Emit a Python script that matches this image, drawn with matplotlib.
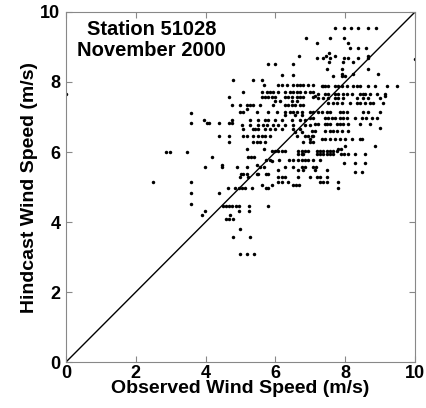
import numpy as np
import matplotlib
matplotlib.use('Agg')
import matplotlib.pyplot as plt

plt.rcParams['font.family'] = ['Liberation Sans', 'DejaVu Sans']
plt.rcParams['font.weight'] = 'bold'

# hindcast value -> observed speeds (m/s)
rows = [
    # upper tail
    (9.53, [7.72, 7.97, 8.17, 8.38, 8.66, 8.87]),
    (9.25, [6.88, 7.57, 7.97]),
    (9.12, [7.18, 8.09]),
    (8.96, [8.14, 8.36, 8.59]),
    (8.82, [7.54]),
    (8.75, [6.67, 7.45, 7.71, 8.66]),
    (8.68, [7.18, 7.37, 7.57, 7.97, 8.09, 8.36, 8.66]),
    (8.66, [10.0]),
    # core
    (8.58, [7.54, 7.95, 8.23]),
    (8.51, [5.78, 5.99, 6.50]),
    (8.37, [7.49, 7.90, 8.66]),
    (8.24, [7.90, 8.23, 8.95]),
    (8.20, [6.18, 6.50]),
    (8.16, [7.66, 7.90, 8.00]),
    (8.06, [4.79, 5.37, 5.61]),
    (7.91, [5.68, 6.08, 6.18, 6.32, 6.51, 6.61, 6.70, 6.80, 6.94, 7.09]),
    (7.90, [7.33, 7.37, 7.42, 7.52, 7.71, 7.80, 7.90, 8.04, 8.23, 8.33, 8.42,
            8.66, 8.85, 9.19, 9.47]),
    (7.71, [5.08, 5.61, 5.75, 5.85, 5.94, 6.08, 6.28, 6.42, 6.51, 6.61, 6.70,
            6.85, 6.99, 7.09]),
    (7.66, [7.23, 7.42, 7.52, 7.71, 7.80, 7.95, 8.04, 8.19, 8.42, 8.52, 8.57,
            8.71, 8.90, 9.14]),
    (7.65, [0.0]),
    (7.60, [7.13, 9.14]),
    (7.57, [4.67, 5.61, 5.70, 5.80, 5.89, 5.99, 6.28, 6.37, 6.47, 6.61, 6.70,
            6.80, 7.09]),
    (7.54, [7.23, 7.37, 7.52, 7.71, 7.80, 7.95, 8.33, 8.52, 8.66, 9.00]),
    (7.45, [5.99, 6.13, 6.47, 6.61]),
    (7.40, [7.52, 7.66, 7.76, 7.90, 8.14, 8.33, 8.42, 8.57, 8.71, 8.80, 9.09]),
    (7.34, [4.77, 4.99, 5.18, 5.27, 5.37, 5.56, 5.94, 6.28, 6.37, 6.47, 6.56,
            6.70, 6.80]),
    (7.22, [5.18]),
    (7.14, [4.99, 5.08, 5.47, 5.80, 6.04, 6.28, 6.42, 6.51, 6.61, 6.75, 6.99,
            7.09, 7.23, 7.33, 7.47, 7.57, 7.85, 7.95, 8.04, 8.52, 8.66, 9.00]),
    (7.12, [3.57]),
    (7.05, [6.28, 6.56, 6.75]),
    (6.97, [6.99, 7.09, 7.42, 7.52, 7.61, 7.71, 7.85, 7.95, 8.04, 8.28, 8.47,
            8.61, 8.76, 8.90]),
    (6.91, [3.96, 4.77, 5.27, 5.51, 5.70, 5.80, 5.99, 6.18, 6.47, 6.70, 6.85]),
    (6.84, [3.57, 4.03, 4.67, 4.77]),
    (6.82, [4.10, 4.38]),
    (6.80, [7.13, 7.23, 7.42, 7.47, 7.57, 7.76, 7.85, 7.95, 8.09, 8.42, 8.71]),
    (6.77, [5.03, 5.27, 5.51, 5.65, 5.75, 5.94, 6.08, 6.28, 6.51, 6.85, 6.99]),
    (6.70, [9.00]),
    (6.66, [5.08, 5.37, 5.42, 5.51, 5.70, 5.85, 6.00, 6.18, 6.51, 6.70]),
    (6.60, [7.04, 7.13, 7.42, 7.57, 7.66, 7.76, 7.90, 8.09]),
    (6.58, [6.56, 6.75]),
    (6.46, [4.38, 4.67, 5.08, 5.18, 5.37, 5.51, 5.61, 5.70, 5.85, 6.61, 6.85,
            6.94, 7.04, 7.09]),
    (6.37, [6.99, 7.33, 7.42, 7.57, 7.71, 7.85, 8.00, 8.19, 8.42, 8.47]),
    (6.29, [4.67, 5.37, 5.47, 5.56, 5.70, 6.80, 6.99, 7.09]),
    (6.17, [8.00, 8.85]),
    # lower part
    (6.10, [5.18, 5.68, 7.79, 7.88]),
    (6.03, [5.89, 5.99, 6.08, 6.18, 6.27, 6.66, 6.75, 6.85, 6.94, 7.18, 7.28,
            7.37, 7.47, 7.56, 7.66, 7.76]),
    (5.99, [2.87, 2.98, 3.48]),
    (5.95, [6.66, 6.75, 6.80, 7.18, 7.28, 7.37, 7.47, 7.56, 7.66, 7.88, 7.97,
            8.07, 8.28, 8.57]),
    (5.85, [4.17, 5.21, 5.31, 5.40]),
    (5.77, [5.72, 5.85, 6.09, 6.40, 6.49, 6.66, 6.75, 6.85, 6.94, 7.07, 7.28]),
    (5.73, [5.91]),
    (5.70, [7.97, 8.28, 8.57]),
    (5.62, [4.48, 5.48]),
    (5.56, [3.98, 4.48, 4.91, 5.18, 5.56, 5.68, 6.27, 6.49, 6.75, 6.85, 7.07,
            7.17]),
    (5.49, [6.08, 6.66, 6.80, 7.14, 7.47]),
    (5.44, [8.28, 8.47]),
    (5.38, [5.01, 5.08, 5.18, 5.47, 5.51, 5.74, 5.79]),
    (5.30, [4.99, 5.22]),
    (5.28, [6.08, 6.18, 6.27, 6.66, 6.99, 7.18, 7.28, 7.49]),
    (5.13, [2.48, 3.57, 6.08, 6.18, 6.37, 7.28, 7.37, 7.49, 7.80]),
    (5.05, [5.62, 5.90, 6.49, 6.58, 6.68]),
    (4.97, [4.64, 4.84, 4.95, 5.05, 5.14, 5.33, 5.72, 5.79, 7.79]),
    (4.82, [3.57, 4.38]),
    (4.51, [3.57]),
    (4.45, [4.49, 4.57, 4.67, 4.77, 4.86, 4.96, 5.25, 5.80]),
    (4.31, [3.98, 4.96, 5.25]),
    (4.20, [3.89, 4.70]),
    (4.09, [4.58, 4.67, 4.79]),
    (3.80, [4.99]),
    (3.58, [4.79, 5.27]),
    (3.08, [4.99, 5.18, 5.40]),
]

observed = np.array([x for y, xs in rows for x in xs])
hindcast = np.array([y for y, xs in rows for x in xs])

fig = plt.figure(figsize=(4.27, 4.08), dpi=100)
ax = fig.add_axes([0.1546, 0.1127, 0.8173, 0.8579])

ax.plot([0, 10], [0, 10], color='k', lw=1.0)
ax.plot(observed, hindcast, 'o', color='k', ms=2.5, mew=0)

ax.set_xlim(0, 10)
ax.set_ylim(0, 10)
ax.set_xticks(np.arange(0, 11, 2))
ax.set_yticks(np.arange(0, 11, 2))
ax.tick_params(direction='in', top=True, right=True, length=4, color='#888888',
               labelsize=13)
ax.tick_params(axis='x', pad=2)
ax.tick_params(axis='y', pad=4)
for lbl in ax.get_xticklabels() + ax.get_yticklabels():
    lbl.set_fontweight('bold')
for s in ax.spines.values():
    s.set_color('#888888')

ax.set_xlabel('Observed Wind Speed (m/s)', fontsize=14, fontweight='bold', labelpad=-1)
ax.set_ylabel('Hindcast Wind Speed (m/s)', fontsize=14, fontweight='bold', labelpad=2)

ax.text(2.45, 9.2, 'Station 51028\nNovember 2000', ha='center', va='center',
        fontsize=14.5, fontweight='bold', linespacing=1.1)

fig.savefig('out.png', dpi=100)
